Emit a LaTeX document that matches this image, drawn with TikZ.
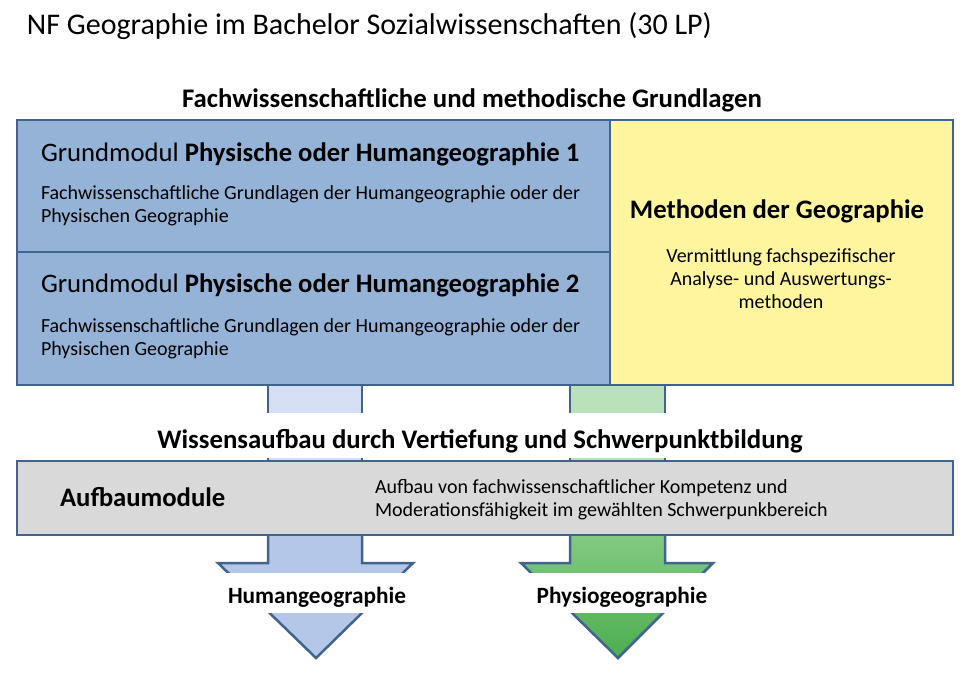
\documentclass[tikz,border=0pt]{standalone}
\usepackage{fontspec}
\setmainfont{Carlito}
\definecolor{bluefill}{HTML}{95B3D7}
\definecolor{edge}{HTML}{41648F}
\definecolor{yellowfill}{HTML}{FFF59E}
\definecolor{grayfill}{HTML}{D9D9D9}
\definecolor{stubblue}{HTML}{D5DFF3}
\definecolor{arrowblue}{HTML}{B4C7E9}
\definecolor{stubgreen}{HTML}{B9E2BA}
\definecolor{greentop}{HTML}{84CB84}
\definecolor{greenbot}{HTML}{4DAE4F}
\tikzset{
  outline/.style={draw=edge, line width=2.5pt, line join=miter},
  txt/.style={inner sep=0pt, outer sep=0pt, anchor=base west, text=black},
  ctxt/.style={inner sep=0pt, outer sep=0pt, anchor=base, text=black},
  body/.style={font=\fontsize{20}{24}\selectfont},
  modhead/.style={font=\fontsize{26.7}{32}\selectfont},
  modheadb/.style={font=\fontsize{26.7}{32}\selectfont\bfseries},
  sechead/.style={font=\fontsize{26.8}{32}\selectfont\bfseries},
  arrlabel/.style={font=\fontsize{23.3}{28}\selectfont\bfseries},
}
\begin{document}
\begin{tikzpicture}[x=1pt,y=-1pt]
\useasboundingbox (0,0) rectangle (974,676);
\fill[white] (0,0) rectangle (974,676);

% top stubs
\fill[stubblue] (268,380) rectangle (362,413);
\draw[outline] (268,380) -- (268,413) (362,380) -- (362,413);
\fill[stubgreen] (570,380) rectangle (665,413);
\draw[outline] (570,380) -- (570,413) (665,380) -- (665,413);
\fill[stubblue] (268,458) rectangle (362,466);
\draw[outline] (268,458) -- (268,466) (362,458) -- (362,466);
\fill[stubgreen] (570,458) rectangle (665,466);
\draw[outline] (570,458) -- (570,466) (665,458) -- (665,466);

% bottom arrows
\filldraw[outline, fill=arrowblue] (268,530) -- (268,563) -- (218,563) -- (316,658) -- (413,563) -- (362,563) -- (362,530);
\shade[top color=greentop, bottom color=greenbot] (570,530) -- (570,563) -- (521,563) -- (618,658) -- (713,563) -- (665,563) -- (665,530) -- cycle;
\draw[outline] (570,530) -- (570,563) -- (521,563) -- (618,658) -- (713,563) -- (665,563) -- (665,530);
\fill[white] (200,573) rectangle (440,613);
\fill[white] (500,573) rectangle (740,613);

% boxes
\filldraw[outline, fill=bluefill] (17,120) rectangle (610,385);
\draw[outline] (17,252) -- (610,252);
\filldraw[outline, fill=yellowfill] (610,120) rectangle (953,385);
\filldraw[outline, fill=grayfill] (17,461) rectangle (953,535);

% texts
\node[txt, font=\fontsize{30}{36}\selectfont] (title) at (27,35) {NF Geographie im Bachelor Sozialwissenschaften (30 LP)};
\node[ctxt, sechead] (hdr1) at (472,108) {Fachwissenschaftliche und methodische Grundlagen};

\node[txt, modhead] (gm1) at (41,162) {Grundmodul \textbf{Physische oder Humangeographie 1}};
\node[txt, body] (gm1a) at (41,199.5) {Fachwissenschaftliche Grundlagen der Humangeographie oder der};
\node[txt, body] (gm1b) at (41,222.5) {Physischen Geographie};

\node[txt, modhead] (gm2) at (41,293) {Grundmodul \textbf{Physische oder Humangeographie 2}};
\node[txt, body] (gm2a) at (41,332.5) {Fachwissenschaftliche Grundlagen der Humangeographie oder der};
\node[txt, body] (gm2b) at (41,355.5) {Physischen Geographie};

\node[ctxt, modheadb] (meth) at (777,219) {Methoden der Geographie};
\node[ctxt, body] (metha) at (781,262.5) {Vermittlung fachspezifischer};
\node[ctxt, body] (methb) at (781,285.5) {Analyse- und Auswertungs-};
\node[ctxt, body] (methc) at (781,308.5) {methoden};

\node[ctxt, sechead] (hdr2) at (480,448) {Wissensaufbau durch Vertiefung und Schwerpunktbildung};

\node[txt, modheadb] (aufbau) at (60,506) {Aufbaumodule};
\node[txt, body] (aufa) at (375,493.5) {Aufbau von fachwissenschaftlicher Kompetenz und};
\node[txt, body] (aufb) at (375,516.5) {Moderationsfähigkeit im gewählten Schwerpunkbereich};

\node[ctxt, arrlabel] (human) at (317,603.5) {Humangeographie};
\node[ctxt, arrlabel] (physio) at (622,603.5) {Physiogeographie};
\end{tikzpicture}
\end{document}
